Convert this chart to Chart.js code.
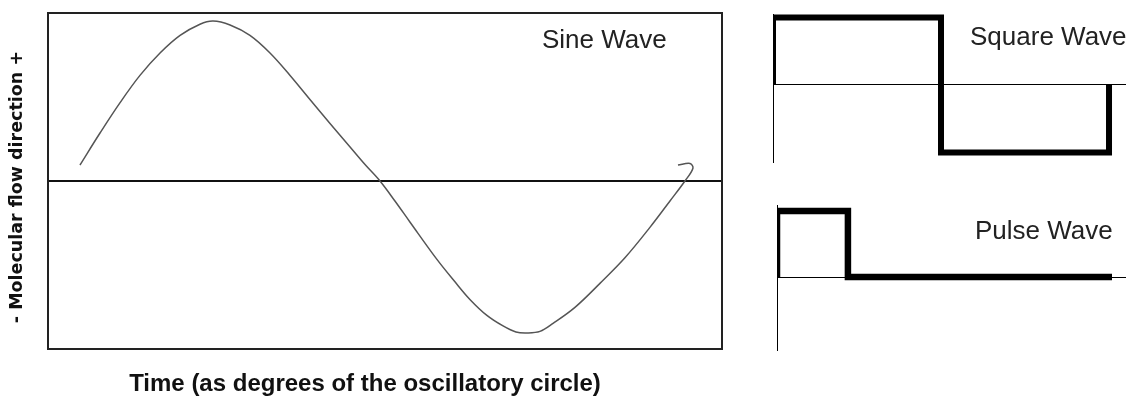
<!DOCTYPE html>
<html>
<head>
<meta charset="utf-8">
<script src="https://cdn.jsdelivr.net/npm/chart.js@4.4.0/dist/chart.umd.min.js"></script>
<style>
  body { margin: 0; background: #fff; width: 1126px; height: 396px; overflow: hidden; position: relative; font-family: "Liberation Sans", Arial, sans-serif; }
  canvas { position: absolute; }
  .lbl { position: absolute; font-size: 26px; line-height: 26px; color: #222; white-space: nowrap; }
</style>
</head>
<body>
<canvas id="sineChart" style="left:0;top:0" width="740" height="396"></canvas>
<canvas id="squareChart" style="left:740px;top:0" width="386" height="175"></canvas>
<canvas id="pulseChart" style="left:740px;top:190px" width="386" height="175"></canvas>
<div class="lbl" style="left:542px;top:26px">Sine Wave</div>
<div class="lbl" style="left:970px;top:23px">Square Wave</div>
<div class="lbl" style="left:975px;top:217px">Pulse Wave</div>
<script>
// hand drawn sine (degrees, relative flow)
var sineDegrees = [3.5, 15.3, 27.1, 38.8, 50.6, 62.4, 74.1, 81.8, 91.8, 103.5, 115.3, 127.1, 138.8, 150.6, 162.4, 171.2, 180,
    188.8, 197.6, 213.5, 224.1, 232.9, 242.9, 252.4, 260, 266.5, 274.1, 281.8, 294.7, 309.4, 324.1, 338.8, 350.6, 359.4,
    364.1, 362.4, 355.3];
var sineValues = [0.10, 0.30, 0.49, 0.66, 0.80, 0.91, 0.98, 1.00, 0.975, 0.91, 0.80, 0.66, 0.51, 0.36, 0.2125, 0.103, 0,
    -0.125, -0.256, -0.49, -0.63, -0.74, -0.84, -0.906, -0.944, -0.95, -0.94, -0.89, -0.79, -0.64, -0.48, -0.29, -0.125, 0,
    0.08, 0.11, 0.10];

var squareDegrees = [0, 0, 180, 180, 360, 360];
var squareValues = [0, 1, 1, -1, -1, 0];

var pulseDegrees = [0, 0, 76, 76, 359];
var pulseValues = [0, 1, 1, 0, 0];

var xTitle = "Time (as degrees of the oscillatory circle)";
var yTitle = "- Molecular flow direction +";

function toPoints(xs, ys) {
    var pts = [];
    for (var i = 0; i < xs.length; i++) pts.push({ x: xs[i], y: ys[i] });
    return pts;
}

function onlyZero(scale) { scale.ticks = [{ value: 0 }]; }

new Chart("sineChart", {
    type: "scatter",
    data: {
        datasets: [{
            data: toPoints(sineDegrees, sineValues),
            showLine: true,
            borderColor: "#555",
            borderWidth: 1.5,
            tension: 0.35,
            pointRadius: 0
        }]
    },
    options: {
        responsive: false,
        animation: false,
        plugins: { legend: { display: false }, tooltip: { enabled: false } },
        layout: { padding: 0 },
        scales: {
            x: {
                type: "linear", position: "bottom", min: -15.3, max: 381.2,
                grid: { display: false },
                ticks: { display: false },
                border: { display: true, color: "#222", width: 2 },
                title: {
                    display: true,
                    text: xTitle + "      ",
                    color: "#111",
                    font: { family: "'Liberation Sans', Arial", size: 24, weight: "bold", lineHeight: 1 },
                    padding: 0
                },
                afterFit: function (s) { s.height = 47; }
            },
            y: {
                type: "linear", position: "left", min: -1.05, max: 1.05,
                afterBuildTicks: onlyZero,
                grid: { color: "#111", lineWidth: 2, drawTicks: false },
                ticks: { display: false },
                border: { display: true, color: "#222", width: 2 },
                title: {
                    display: true,
                    text: yTitle + "  ",
                    color: "#111",
                    font: { family: "'DejaVu Sans'", size: 17.5, weight: "bold", lineHeight: 1 },
                    padding: { top: 9, bottom: 0 }
                },
                afterFit: function (s) { s.width = 48; }
            },
            x2: {
                type: "linear", position: "top",
                grid: { display: false },
                ticks: { display: false },
                border: { display: true, color: "#222", width: 2 },
                afterFit: function (s) { s.height = 13; }
            },
            y2: {
                type: "linear", position: "right",
                grid: { display: false },
                ticks: { display: false },
                border: { display: true, color: "#222", width: 2 },
                afterFit: function (s) { s.width = 18; }
            }
        }
    }
});

function waveChart(id, xs, ys, xMax, yMin, yMax, pad, axisLeft, lineW) {
    return new Chart(id, {
        type: "scatter",
        data: {
            datasets: [{
                data: toPoints(xs, ys),
                showLine: true,
                borderColor: "#000",
                borderWidth: lineW,
                borderJoinStyle: "miter",
                borderCapStyle: "butt",
                tension: 0,
                pointRadius: 0
            }]
        },
        options: {
            responsive: false,
            animation: false,
            plugins: { legend: { display: false }, tooltip: { enabled: false } },
            layout: { padding: pad },
            scales: {
                x: { type: "linear", min: 0, max: xMax, display: false },
                y: {
                    type: "linear", min: yMin, max: yMax,
                    afterBuildTicks: onlyZero,
                    grid: { color: "#000", lineWidth: 1, drawTicks: false },
                    ticks: { display: false },
                    border: { display: true, color: "#000", width: 1 },
                    afterFit: function (s) { s.width = axisLeft; }
                }
            }
        }
    });
}

waveChart("squareChart", squareDegrees, squareValues, 378.2, -1.14, 1.05, { top: 14, bottom: 13, left: 0, right: 0 }, 33, 6);
waveChart("pulseChart", pulseDegrees, pulseValues, 374, -1.106, 1.091, { top: 15, bottom: 15, left: 0, right: 0 }, 37, 6.5);
</script>
</body>
</html>
